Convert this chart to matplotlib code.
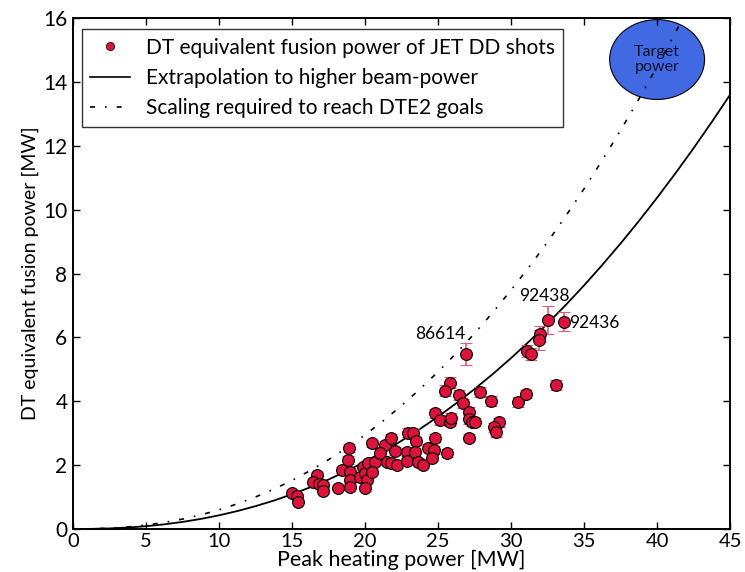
import matplotlib
matplotlib.use("Agg")
import matplotlib.pyplot as plt
from matplotlib.patches import Ellipse
from matplotlib.lines import Line2D

plt.rcParams['font.family'] = ['Lato', 'DejaVu Sans']

# Data: peak heating power [MW] vs DT equivalent fusion power [MW]
shot_x = [14.97, 15.36, 15.44, 16.69, 16.46, 16.87, 17.15, 17.15, 18.17, 18.86,
          18.92, 18.4, 18.97, 18.97, 18.97, 19.66, 19.88, 19.99, 20.1, 20.0,
          20.46, 20.23, 20.68, 20.46, 21.4, 21.76, 21.0, 21.5, 22.05, 21.8,
          22.2, 22.97, 23.3, 23.5, 22.9, 23.4, 22.85, 23.65, 24.0, 24.8,
          24.3, 24.7, 24.6, 25.6, 24.8, 25.1, 25.8, 25.9, 25.8, 25.5,
          26.4, 26.7, 27.9, 28.6, 30.45, 27.1, 27.1, 27.3, 27.5, 29.2,
          28.8, 28.95, 27.1, 26.9, 32.5, 33.6, 32.0, 31.9, 31.1, 31.35,
          33.06, 31.0]
shot_y = [1.14, 1.03, 0.86, 1.69, 1.48, 1.41, 1.38, 1.19, 1.29, 2.16,
          2.53, 1.85, 1.79, 1.53, 1.32, 1.64, 1.95, 1.74, 1.53, 1.27,
          2.68, 2.06, 2.11, 1.79, 2.63, 2.84, 2.37, 2.10, 2.45, 2.08,
          2.00, 3.02, 3.00, 2.76, 2.42, 2.42, 2.13, 2.11, 2.00, 2.84,
          2.55, 2.47, 2.23, 2.37, 3.62, 3.41, 3.36, 3.47, 4.58, 4.33,
          4.20, 3.93, 4.30, 4.00, 3.97, 3.67, 3.43, 3.36, 3.35, 3.34,
          3.18, 3.03, 2.86, 5.47, 6.54, 6.49, 6.10, 5.92, 5.57, 5.48,
          4.50, 4.22]
shot_err = [0.08, 0.08, 0.06, 0.10, 0.10, 0.10, 0.10, 0.08, 0.08, 0.12,
            0.12, 0.10, 0.10, 0.10, 0.08, 0.10, 0.10, 0.10, 0.10, 0.08,
            0.12, 0.10, 0.10, 0.10, 0.12, 0.12, 0.12, 0.10, 0.12, 0.10,
            0.10, 0.14, 0.14, 0.12, 0.12, 0.12, 0.10, 0.10, 0.10, 0.12,
            0.12, 0.12, 0.10, 0.12, 0.15, 0.15, 0.15, 0.15, 0.18, 0.18,
            0.16, 0.15, 0.16, 0.16, 0.15, 0.15, 0.14, 0.14, 0.14, 0.14,
            0.14, 0.14, 0.12, 0.35, 0.45, 0.30, 0.25, 0.30, 0.20, 0.20,
            0.15, 0.12]

# Curves
extrap_x = [0, 1.25, 2.5, 3.75, 5, 6.25, 7.5, 8.75, 10, 11.25, 12.5, 13.75,
            15, 16.25, 17.5, 18.75, 20, 21.25, 22.5, 23.75, 25, 26.25, 27.5,
            28.75, 30, 31.25, 32.5, 33.75, 35, 36.25, 37.5, 38.75, 40, 41.25,
            42.5, 43.75, 45]
extrap_y = [0, 0.004, 0.018, 0.045, 0.087, 0.145, 0.221, 0.315, 0.428, 0.561,
            0.715, 0.889, 1.087, 1.306, 1.549, 1.816, 2.106, 2.422, 2.762,
            3.127, 3.519, 3.937, 4.382, 4.853, 5.352, 5.878, 6.434, 7.017,
            7.628, 8.270, 8.940, 9.641, 10.373, 11.134, 11.924, 12.748, 13.6]
goal_x = [0, 1.25, 2.5, 3.75, 5, 6.25, 7.5, 8.75, 10, 11.25, 12.5, 13.75,
          15, 16.25, 17.5, 18.75, 20, 21.25, 22.5, 23.75, 25, 26.25, 27.5,
          28.75, 30, 31.25, 32.5, 33.75, 35, 36.25, 37.5, 38.75, 40, 41.25,
          42.5]
goal_y = [0, 0.005, 0.025, 0.063, 0.122, 0.204, 0.310, 0.442, 0.600, 0.787,
          1.002, 1.247, 1.523, 1.830, 2.170, 2.542, 2.948, 3.389, 3.864,
          4.375, 4.922, 5.505, 6.125, 6.782, 7.480, 8.214, 8.988, 9.802,
          10.655, 11.549, 12.484, 13.460, 14.480, 15.541, 16.653]

target_x, target_y = 40.0, 14.7
annot_labels = ['86614', '92438', '92436']

fig = plt.figure(figsize=(7.45, 5.72), dpi=100)
ax = fig.add_axes([0.098, 0.0752, 0.882, 0.8933])

red = '#dc143c'
ell = Ellipse((target_x, target_y), width=6.5, height=2.5, facecolor='#4169e1',
              edgecolor='black', lw=0.8, zorder=1)
ax.add_patch(ell)
ax.text(target_x, target_y, 'Target\npower', ha='center', va='center',
        fontsize=11.5, color='#111133', zorder=4, linespacing=1.05)

ax.plot(extrap_x, extrap_y, color='black', lw=1.3, zorder=2)
ax.plot(goal_x, goal_y, color='black', lw=1.2, linestyle=(0, (3, 6, 1, 6)), zorder=2)

ax.errorbar(shot_x, shot_y, yerr=shot_err, fmt='o', ms=8.5, mfc=red, mec='black',
            mew=0.8, ecolor='#e8587a', elinewidth=1.2, capsize=4, capthick=1.2,
            zorder=3)

ax.text(26.9, 6.1, annot_labels[0], ha='right', va='center', fontsize=12.5)
ax.text(32.3, 7.3, annot_labels[1], ha='center', va='center', fontsize=12.5)
ax.text(33.95, 6.45, annot_labels[2], ha='left', va='center', fontsize=12.5)

ax.set_xlim(0, 45)
ax.set_ylim(0, 16)
ax.set_xticks(range(0, 46, 5))
ax.set_yticks(range(0, 17, 2))
ax.tick_params(direction='in', top=True, right=True, length=5, width=1,
               labelsize=15)
ax.tick_params(axis='x', pad=3, labelsize=14.5)
ax.tick_params(axis='y', pad=4)
for s in ax.spines.values():
    s.set_linewidth(1.4)

ax.set_xlabel('Peak heating power [MW]', fontsize=15.5, labelpad=0)
ax.set_ylabel('DT equivalent fusion power [MW]', fontsize=14, labelpad=3)

handles = [
    Line2D([], [], marker='o', ls='none', mfc=red, mec='black', mew=0.5, ms=6),
    Line2D([], [], color='black', lw=1.2),
    Line2D([], [], color='black', lw=1.2, linestyle=(0, (3, 6, 1, 6))),
]
labels = ['DT equivalent fusion power of JET DD shots',
          'Extrapolation to higher beam-power',
          'Scaling required to reach DTE2 goals']
leg = ax.legend(handles, labels, loc='upper left', bbox_to_anchor=(0.0137, 0.978),
                borderaxespad=0, fontsize=15, frameon=True, fancybox=False,
                edgecolor='black', handlelength=1.9, handletextpad=0.75,
                labelspacing=0.5, borderpad=0.4)
leg.get_frame().set_linewidth(1.0)

fig.savefig('out.png', dpi=100)
